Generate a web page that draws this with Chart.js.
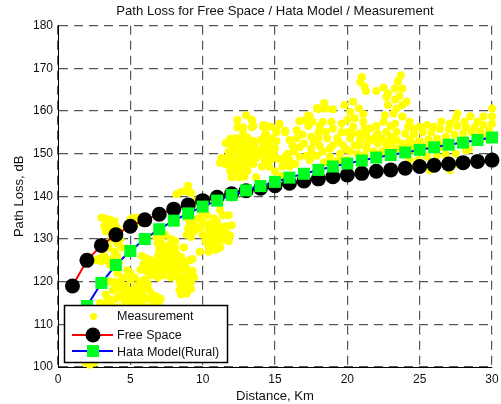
<!DOCTYPE html>
<html>
<head>
<meta charset="utf-8">
<script src="https://cdn.jsdelivr.net/npm/chart.js@4/dist/chart.umd.min.js"></script>
<style>
  html, body { margin: 0; padding: 0; background: #fff; }
  #wrap { width: 501px; height: 404px; }
</style>
</head>
<body>
<div id="wrap"><canvas id="pathloss"></canvas></div>
<script>
const distance = [1,2,3,4,5,6,7,8,9,10,11,12,13,14,15,16,17,18,19,20,21,22,23,24,25,26,27,28,29,30];
const freeSpace = [119,125,128.5,131,133,134.5,135.8,137,138,139,139.8,140.6,141.3,141.9,142.5,143.1,143.6,144.1,144.6,145,145.4,145.9,146.2,146.6,147,147.3,147.6,147.9,148.2,148.5];
const hataRural = [103.8,114.3,119.7,123.9,127.2,130,132.3,134.3,136,137.6,139,140.3,141.4,142.4,143.4,144.4,145.3,146.2,147,147.7,148.4,149.1,149.7,150.3,150.9,151.5,152.1,152.6,153.2,153.8];

const nearTop = [[3,135],[3.3,134.8],[3.6,134.5],[3.9,134.2],[3.4,133.5],[3.2,133],[3.7,133],[4,133],[4.2,132],[3.6,131.8],[3.9,131],[3.3,131.8],[4.3,130],[4.1,129],[3.7,130],[4.4,128],[3.9,127],[4.1,126],[3.5,128],[2.6,125],[3,124.8],[3.4,125],[3.8,125.4],[4.2,124.5],[3.6,124],[2.9,125.5],[3.2,126],[5.2,135],[5.6,135],[5,134.5],[5.4,133.8]];
const nearLow = [[1.9,101],[2.2,100.5],[2.5,101],[2.8,102],[2.1,102],[2.4,102.5],[2.9,115],[3.2,114],[3.5,116],[3.8,118],[4,116],[4.3,120],[4.4,117],[4.6,115.5],[4.7,119],[4.8,122.7],[4.9,116.5],[5,120.5],[5.1,118],[5.2,114.5],[5.3,121],[5.4,116],[5.5,119],[5.6,117.5],[5.7,120],[5.8,115],[5.9,118.5],[6,113],[6.1,116],[6.2,119.5],[6.3,114],[6.5,117],[6.6,112],[6.7,115],[6.9,113],[7,114.5],[7.2,113.5],[3.6,113],[4.2,114],[4.5,112.5],[5,113],[5.5,112.5],[3.3,117],[3.9,120],[4.1,122],[4.5,121],[5,122],[4.4,119],[5.4,119],[3,112],[3.6,120],[3.4,115.5],[3.7,114.5],[4,118.5],[4.2,116.5],[4.5,118],[4.8,117],[5,115],[5.3,117],[5.6,115.5],[5.8,117],[6,120.5],[6.4,116],[6.3,118],[6.8,116.5],[7.1,116]];
const midBlob = [[6.8,130.5],[7.1,130],[7.4,131],[7.8,130],[8.1,129.5],[6.9,129],[7.3,128.5],[7.7,128.5],[8.1,128],[8.7,128],[7,127.5],[7.4,127],[7.8,127],[8.2,126.5],[6.9,126],[7.3,125.8],[7.7,125.5],[8.1,125.5],[5.8,126],[6.1,125.5],[6.4,125],[5.9,124],[6.3,124],[6.7,124.5],[7.1,124.5],[7.5,124.2],[7.9,124.2],[8.3,124.5],[8.7,124.8],[9.1,125],[9.3,125.3],[5.7,122.8],[6.1,122.5],[6.5,122.8],[6.9,122.5],[7.3,122.8],[7.7,122.7],[8.1,122.5],[8.5,122.8],[8.9,123],[9.3,122.5],[6.4,121.5],[6.9,121],[7.3,121.5],[7.8,121],[8.2,121.3],[8.6,121],[9,121.5],[9.4,121],[8.4,120],[8.8,120],[9.2,120],[8.5,119],[8.9,119],[8.4,118],[8.8,118],[9.2,118.3],[8.5,117],[8.9,117.2],[7.5,125],[6.6,123.5],[7,123.5],[7.4,123.5],[7.8,123.4],[8.2,123.6],[8.5,125.8],[8.8,123.8]];
const midUpper = [[8.2,140.5],[8.5,141],[8.8,141.2],[9,142.5],[9.2,140.8],[9.5,139],[8.9,135],[9.3,134.5],[9.7,134.8],[9.1,133.5],[9.5,133],[9,132.5],[9.4,131.8],[9.8,132.5],[8.9,131],[9.2,130.5],[10,136],[10.3,135.5],[10,134],[10.5,133.5],[11.2,136.8],[11.4,135.6],[11.8,135.6],[10.8,134.8],[11,134],[10.4,132.5],[10.8,132.5],[11.2,132.8],[11.6,133],[12,133.2],[10,131],[10.4,131],[10.8,131],[11.2,131.2],[11.6,131.5],[11.9,130.8],[10.2,129.5],[10.6,129.5],[11,129.6],[11.4,129.8],[11.8,129.5],[10.4,128.3],[10.8,128.2],[11.2,128],[9.8,127],[10.4,127],[10.9,127.5]];
const ridge = [[12.4,157.9],[13,159],[13.4,157.9],[13.4,156.2],[12.4,156.2],[12.8,156.2],[12.8,154.8],[14.2,156.2],[14.7,156.4],[15.3,157],[14.3,154.4],[15.1,155],[15.7,155],[16.7,157.6],[17.3,159],[17.9,160.7],[11.9,153.5],[12.3,153.6],[12.7,153.5],[13.1,153.8],[13.5,153],[11.6,152.5],[12,152],[12.4,152.3],[12.8,152],[13.2,152.3],[13.6,151.8],[11.8,150.5],[12.2,150.8],[12.6,150.5],[13,150.5],[13.4,150.6],[13.8,150.5],[11.3,149],[11.7,149],[12.1,149.2],[12.5,149],[12.9,149],[13.3,149],[13.7,149],[11.2,147.8],[11.6,147.5],[12.1,147.5],[12.5,147.6],[13,147.5],[13.5,147.6],[11.9,146],[12.3,146.2],[12.7,146],[13.1,146],[12,144.5],[12.5,144.5],[12.9,144.6],[14,153.2],[14.4,153],[14.8,153.5],[15.1,153],[14.2,151.5],[14.6,151.8],[15,151.2],[14.1,150],[14.5,150.3],[14.9,150],[14.3,148.5],[14.7,148.6],[15.2,148.8],[15.6,148.5],[16,148.6],[14.1,147],[14.6,147],[15,145.8],[15.5,147],[16,147],[16.4,147.6],[13.7,144.5],[15.4,144.8],[15.9,150],[16.3,150.5],[16.2,152],[16.5,153.6],[16,153.2]];
const band = [[13.4,157.9],[13.5,156.5],[14.2,156.7],[14.5,156.3],[15.3,156.9],[15.7,155.4],[15.1,155.5],[14.4,154.4],[18.4,161.9],[18,160.4],[18.5,160.6],[19,160.4],[17.4,158.8],[16.7,157.6],[17.1,157.9],[17.6,157.5],[18.3,157.5],[18.9,157.5],[17.3,156.5],[18.1,156.5],[19,155.9],[18.5,155.1],[18,153.6],[18.6,153.6],[19.3,153.6],[18.8,151.2],[19.8,161.4],[20.4,162.2],[20.8,160.6],[20.2,159.8],[21.1,159.3],[20,157.9],[20.5,158.3],[21.1,157.5],[20.4,156.3],[21.2,155.9],[21.6,155.9],[20.8,154.7],[21.3,154.4],[22.1,154.7],[22.7,155.1],[23.4,155.1],[24,154.7],[20.2,153.6],[20.9,153.2],[21.6,153.2],[17,152.4],[17.5,151.2],[16.3,150.8],[16.7,149.3],[15.7,149.3],[17.4,148.5],[17.9,149.5],[18.8,149.3],[19.5,150],[20.2,150.5],[21.3,151.2],[22.1,152.4],[22.7,152],[23.4,153.2],[23.4,151.2],[24.3,153.2],[17.5,150],[18.3,150.5],[19,152],[19.7,152],[20.5,152],[21.8,150.5],[22.4,150.5],[23,150.5],[16.9,154.5],[17.5,154],[16.5,155.5],[19.6,155],[19.9,151],[20.7,150],[21.2,149.5],[18.4,148],[19.2,148.2],[20,148.5],[16.7,151.5],[17.2,149.5],[18.1,151.8],[18.7,148],[19.5,148.5],[20.8,152],[21.4,152.5],[22,149.8],[23,152.5],[23.8,152.4],[22.4,153.5],[23,154],[24.2,151.5],[20,155],[19.4,152.8],[19.6,157],[18,155],[17.7,152.8],[22,156.5],[22.9,153],[21.9,153.8],[20.3,154.6]];
const peak = [[21,168],[20.9,166.8],[21.2,165.7],[21.3,164.7],[22,164.7],[22.5,165.5],[22.8,164.1],[22.7,163.3],[23.3,165.3],[23.5,167],[23.7,168.4],[23.8,165.3],[23.3,162.7],[24.1,162.2],[22.8,161.4],[23.4,160.6],[23.8,161.4],[22.6,159],[23.2,159.4],[23.8,158.7],[23.3,157],[24.3,157.5],[24.2,156.3],[23.6,163.5],[22.5,157.5],[23,156.5]];
const farBand = [[25,156.3],[25.5,156.7],[26.5,157.5],[27.6,159.4],[27.5,158.3],[28.5,158.8],[29.4,158.7],[30,160.6],[30,158.7],[28.1,157.5],[29,157.5],[27.1,157.1],[26,156.3],[24.6,155.9],[24.6,154.5],[25.2,155],[25.8,155],[26.4,155.8],[27,155.8],[27.6,156.5],[28.2,156.2],[28.8,156.2],[29.4,156.8],[30,157],[24.5,152.5],[25,153],[25.6,153.3],[26.2,153.5],[26.8,154],[27.4,154.5],[28,154.8],[28.6,155],[29.2,155.2],[29.8,155.5],[24.4,151],[25,150.5],[25.7,151.5],[26.4,151.5],[27,152.5],[27.8,152.8],[28.4,151],[28.2,150.8],[24.3,148.5],[24.9,148.5],[25.5,149.3],[26.2,149.5],[26.8,149.8],[27.5,150],[25.7,146.2],[27.1,146.2],[26,146.5],[24.8,147],[27.6,147.5],[28.9,153.5],[29.5,154],[28.2,153],[26.3,152.5],[25.2,152]];

const measurement = [nearTop, nearLow, midBlob, midUpper, ridge, band, peak, farBand].flat();

const legendRows = ['Measurement', 'Free Space', 'Hata Model(Rural)'];

function toXY(xs, ys) {
    return xs.map(function (x, i) { return { x: x, y: ys[i] }; });
}

// matlab style box legend sits on top of the data
const boxLegend = {
    id: 'boxLegend',
    afterDraw: function (chart) {
        const c = chart.ctx;
        c.save();
        c.fillStyle = '#fff';
        c.strokeStyle = '#000';
        c.lineWidth = 1.5;
        c.fillRect(64.5, 305.5, 163, 57);
        c.strokeRect(64.5, 305.5, 163, 57);

        c.fillStyle = '#ffff00';
        c.beginPath();
        c.arc(93.5, 316.5, 3.6, 0, Math.PI * 2);
        c.fill();

        c.lineWidth = 2;
        c.strokeStyle = '#ff0000';
        c.beginPath();
        c.moveTo(72, 335);
        c.lineTo(113, 335);
        c.stroke();
        c.fillStyle = '#000';
        c.beginPath();
        c.arc(93, 335, 7.5, 0, Math.PI * 2);
        c.fill();

        c.strokeStyle = '#0000ff';
        c.beginPath();
        c.moveTo(72, 351);
        c.lineTo(113, 351);
        c.stroke();
        c.fillStyle = '#00ff21';
        c.fillRect(87, 345, 12, 12);

        c.fillStyle = '#111';
        c.font = '12.5px "Liberation Sans"';
        c.textBaseline = 'middle';
        c.fillText(legendRows[0], 117, 317);
        c.fillText(legendRows[1], 117, 336);
        c.fillText(legendRows[2], 117, 353);
        c.restore();
    }
};

const font = { family: '"Liberation Sans"', size: 12 };
const titleFont = { family: '"Liberation Sans"', size: 13.1, weight: 'normal' };

new Chart(document.getElementById('pathloss'), {
    type: 'scatter',
    data: {
        datasets: [
            {
                label: 'Hata Model(Rural)',
                data: toXY(distance, hataRural),
                showLine: true,
                borderColor: '#0000ff',
                borderWidth: 2,
                backgroundColor: '#00ff21',
                pointStyle: 'rect',
                pointRadius: 8.5,
                pointBorderWidth: 0,
                clip: false,
                order: 1
            },
            {
                label: 'Free Space',
                data: toXY(distance, freeSpace),
                showLine: true,
                borderColor: '#ff0000',
                borderWidth: 2,
                backgroundColor: '#000',
                pointRadius: 7.5,
                pointBorderWidth: 0,
                clip: false,
                order: 2
            },
            {
                label: 'Measurement',
                data: measurement.map(function (p) { return { x: p[0], y: p[1] }; }),
                backgroundColor: '#ffff00',
                pointRadius: 4,
                pointBorderWidth: 0,
                clip: false,
                order: 3
            }
        ]
    },
    options: {
        responsive: true,
        maintainAspectRatio: false,
        animation: false,
        layout: { padding: { left: 0, right: 9, top: 0, bottom: 0 } },
        plugins: {
            legend: { display: false },
            tooltip: { enabled: false },
            title: {
                display: true,
                fullSize: false,
                text: 'Path Loss for Free Space / Hata Model / Measurement',
                color: '#111',
                font: titleFont,
                padding: { top: 4, bottom: 6 }
            }
        },
        scales: {
            x: {
                type: 'linear',
                min: 0,
                max: 30,
                ticks: { stepSize: 5, color: '#111', font: font, maxRotation: 0, padding: 5 },
                grid: { color: '#555', lineWidth: 1.2, drawTicks: false },
                border: { color: '#000', dash: [9, 6], display: true },
                title: { display: true, text: 'Distance, Km', color: '#111', font: titleFont, padding: { top: 3, bottom: 0 } },
                afterFit: function (scale) {
                    scale.height = 37;
                    scale.paddingRight = 0;
                }
            },
            y: {
                min: 100,
                max: 180,
                ticks: { stepSize: 10, color: '#111', font: font, padding: 5 },
                grid: { color: '#555', lineWidth: 1.2, drawTicks: false },
                border: { color: '#000', dash: [9, 6], display: true },
                title: { display: true, text: 'Path Loss, dB', color: '#111', font: titleFont, padding: { top: 12, bottom: 0 } },
                afterFit: function (scale) { scale.width = 58; }
            }
        }
    },
    plugins: [boxLegend]
});
</script>
</body>
</html>
